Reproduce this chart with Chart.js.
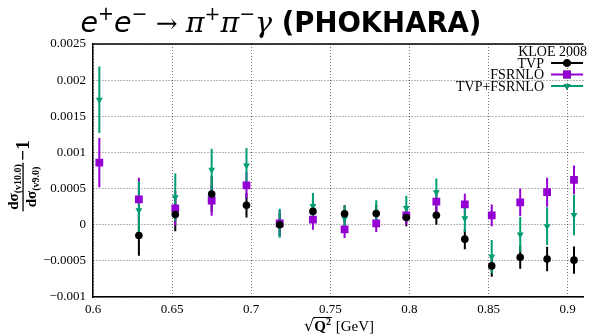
<!DOCTYPE html>
<html>
<head>
<meta charset="utf-8">
<script src="https://cdn.jsdelivr.net/npm/chart.js@4/dist/chart.umd.min.js"></script>
<style>
  html, body { margin: 0; padding: 0; background: #fff; }
  #chart { display: block; }
</style>
</head>
<body>
<canvas id="chart" width="589" height="334"></canvas>
<script>
// sqrt(Q^2) bin centres [GeV]
const qValues = [0.604, 0.629, 0.652, 0.675, 0.697, 0.718, 0.739, 0.759, 0.779, 0.798, 0.817, 0.835, 0.852, 0.870, 0.887, 0.904];

// dsigma(v10.0)/dsigma(v9.0) - 1
const tvp = [null, -0.00015, 0.00014, 0.000425, 0.00027, 0.0, 0.000184, 0.00015, 0.000155, 0.0001, 0.00013, -0.0002, -0.00057, -0.00045, -0.000475, -0.00049];
const tvpErr = [null, 0.00028, 0.00023, 0.00025, 0.00017, 0.00016, 0.00015, 0.00012, 0.00012, 0.00012, 0.00013, 0.00014, 0.00015, 0.00016, 0.00017, 0.00019];

const fsrnlo = [0.00086, 0.00035, 0.000226, 0.000335, 0.000545, 0.00002, 0.00007, -0.000065, 0.00002, 0.00013, 0.00032, 0.00028, 0.00013, 0.00031, 0.00045, 0.00062];
const fsrnloErr = [0.00034, 0.0003, 0.00024, 0.00021, 0.00018, 0.00018, 0.00014, 0.00012, 0.00012, 0.00013, 0.00015, 0.00015, 0.00015, 0.00019, 0.0002, 0.0002];

const tvpFsrnlo = [0.00173, 0.0002, 0.00038, 0.00076, 0.00082, 0.00002, 0.00026, 0.00009, 0.00016, 0.00023, 0.00045, 0.00009, -0.00044, -0.000135, -0.00002, 0.000134];
const tvpFsrnloErr = [0.00046, 0.0004, 0.00033, 0.00029, 0.00024, 0.0002, 0.00018, 0.00017, 0.00018, 0.00017, 0.00019, 0.00019, 0.00023, 0.00024, 0.00026, 0.00028];

const legendTitle = 'KLOE 2008';
const seriesNames = ['TVP', 'FSRNLO', 'TVP+FSRNLO'];

const yTickMin = -0.001, yTickMax = 0.0025, yTickStep = 0.0005;
const xTickMin = 0.6, xTickMax = 0.91, xTickStep = 0.05;

const BLACK = '#000000';
const VIOLET = '#9400d3';
const GREEN = '#009e73';
const SERIF = '"Liberation Serif", "DejaVu Serif", serif';

function points(vals, errs) {
  return qValues.map((x, i) => ({ x: x, y: vals[i], e: errs[i] })).filter(p => p.y !== null);
}

function fmt(v) {
  const r = Math.round(v * 1e5) / 1e5;
  if (r === 0) return '0';
  return String(r).replace('-', '\u2212');
}

// vertical error bars, drawn through the chart's own scales
const errorBars = {
  id: 'errorBars',
  beforeDatasetsDraw(chart) {
    const { ctx, chartArea, scales } = chart;
    ctx.save();
    ctx.beginPath();
    ctx.rect(chartArea.left, chartArea.top, chartArea.right - chartArea.left, chartArea.bottom - chartArea.top);
    ctx.clip();
    chart.data.datasets.forEach(ds => {
      ctx.strokeStyle = ds.borderColor;
      ctx.lineWidth = 2;
      ds.data.forEach(p => {
        const x = scales.x.getPixelForValue(p.x);
        ctx.beginPath();
        ctx.moveTo(x, scales.y.getPixelForValue(p.y - p.e));
        ctx.lineTo(x, scales.y.getPixelForValue(p.y + p.e));
        ctx.stroke();
      });
    });
    ctx.restore();
  }
};

function drawPieces(ctx, pieces, startX, baseY) {
  let x = startX;
  pieces.forEach(p => {
    ctx.font = p.f;
    ctx.fillText(p.t, x, baseY + (p.dy || 0));
    x += ctx.measureText(p.t).width + (p.gap || 0);
  });
  return x;
}

function widthOf(ctx, pieces) {
  let w = 0;
  pieces.forEach(p => { ctx.font = p.f; w += ctx.measureText(p.t).width + (p.gap || 0); });
  return w;
}

const labels = {
  id: 'labels',
  afterDraw(chart) {
    const { ctx, chartArea } = chart;
    ctx.save();
    ctx.fillStyle = '#000';
    ctx.textBaseline = 'alphabetic';
    ctx.textAlign = 'left';

    // top frame line
    ctx.strokeStyle = '#000';
    ctx.lineWidth = 1.5;
    ctx.beginPath();
    ctx.moveTo(chartArea.left, chartArea.top);
    ctx.lineTo(chartArea.right, chartArea.top);
    ctx.stroke();

    // title
    const sans = '"DejaVu Sans", sans-serif';
    const serifM = '"DejaVu Serif", serif';
    const title = [
      { t: 'e', f: 'italic 28.5px ' + sans },
      { t: '+', f: '19px ' + sans, dy: -12 },
      { t: 'e', f: 'italic 28.5px ' + sans },
      { t: '\u2212', f: '19px ' + sans, dy: -12 },
      { t: ' \u2192 ', f: '26px ' + serifM },
      { t: '\u03c0', f: 'italic 28.5px ' + serifM },
      { t: '+', f: '19px ' + serifM, dy: -12 },
      { t: '\u03c0', f: 'italic 28.5px ' + serifM },
      { t: '\u2212', f: '19px ' + serifM, dy: -12 },
      { t: '\u03b3', f: 'italic 28.5px ' + serifM },
      { t: ' (PHOKHARA)', f: 'bold 27.5px ' + sans }
    ];
    const tw = widthOf(ctx, title);
    drawPieces(ctx, title, 281 - tw / 2, 32);

    // legend
    const lx = 544, lineL = 551, lineR = 583;
    ctx.textAlign = 'right';
    ctx.font = '14px ' + SERIF;
    ctx.fillText(legendTitle, 587, 56);
    const rows = [63, 74.5, 86];
    chart.data.datasets.forEach((ds, i) => {
      const y = rows[i];
      ctx.textBaseline = 'middle';
      ctx.fillStyle = '#000';
      ctx.fillText(seriesNames[i], lx, y + 1);
      ctx.strokeStyle = ds.borderColor;
      ctx.lineWidth = 2;
      ctx.beginPath();
      ctx.moveTo(lineL, y);
      ctx.lineTo(lineR, y);
      ctx.stroke();
      Chart.helpers.drawPoint(ctx, {
        pointStyle: ds.pointStyle,
        radius: ds.pointRadius,
        rotation: ds.rotation || 0,
        borderWidth: 0
      }, (lineL + lineR) / 2, y);
      ctx.fillStyle = ds.backgroundColor;
      ctx.fill();
    });

    // x axis title: sqrt(Q^2) [GeV]
    ctx.fillStyle = '#000';
    ctx.textAlign = 'left';
    ctx.textBaseline = 'alphabetic';
    const xt = [
      { t: '\u221a', f: '16px ' + serifM },
      { t: 'Q', f: 'bold 15px ' + SERIF },
      { t: '2', f: 'bold 10px ' + SERIF, dy: -6, gap: 1 },
      { t: ' [GeV]', f: '15px ' + SERIF }
    ];
    const xw = widthOf(ctx, xt);
    const x0 = 339 - xw / 2, by = 331;
    ctx.font = xt[0].f;
    const rootW = ctx.measureText(xt[0].t).width;
    drawPieces(ctx, xt, x0, by);
    ctx.font = xt[1].f;
    const qW = ctx.measureText('Q').width;
    ctx.font = xt[2].f;
    const sW = ctx.measureText('2').width;
    ctx.strokeStyle = '#000';
    ctx.lineWidth = 1;
    ctx.beginPath();
    ctx.moveTo(x0 + rootW - 1, by - 13.5);
    ctx.lineTo(x0 + rootW + qW + sW + 1, by - 13.5);
    ctx.stroke();

    // y axis title: dsigma(v10.0)/dsigma(v9.0) - 1
    ctx.translate(23, 180);
    ctx.rotate(-Math.PI / 2);
    const num = [
      { t: 'd\u03c3', f: 'bold 15px ' + SERIF },
      { t: '(v10.0)', f: 'bold 10px ' + SERIF, dy: 3 }
    ];
    const den = [
      { t: 'd\u03c3', f: 'bold 15px ' + SERIF },
      { t: '(v9.0)', f: 'bold 10px ' + SERIF, dy: 3 }
    ];
    const nw = widthOf(ctx, num), dw = widthOf(ctx, den);
    const fw = Math.max(nw, dw) + 3;
    const cx = -7;
    drawPieces(ctx, num, cx - nw / 2, -5);
    drawPieces(ctx, den, cx - dw / 2, 13);
    ctx.fillRect(cx - fw / 2, -0.6, fw, 1.3);
    ctx.font = 'bold 19px ' + SERIF;
    ctx.fillText('\u22121', cx + fw / 2 + 2, 6);
    ctx.restore();
  }
};

new Chart(document.getElementById('chart'), {
  type: 'scatter',
  data: {
    datasets: [
      {
        label: seriesNames[0],
        data: points(tvp, tvpErr),
        borderColor: BLACK,
        backgroundColor: BLACK,
        pointStyle: 'circle',
        pointRadius: 3.8,
        pointBorderWidth: 0
      },
      {
        label: seriesNames[1],
        data: points(fsrnlo, fsrnloErr),
        borderColor: VIOLET,
        backgroundColor: VIOLET,
        pointStyle: 'rect',
        pointRadius: 5.5,
        pointBorderWidth: 0
      },
      {
        label: seriesNames[2],
        data: points(tvpFsrnlo, tvpFsrnloErr),
        borderColor: GREEN,
        backgroundColor: GREEN,
        pointStyle: 'triangle',
        rotation: 180,
        pointRotation: 180,
        pointRadius: 4,
        pointBorderWidth: 0
      }
    ]
  },
  options: {
    responsive: false,
    animation: false,
    devicePixelRatio: 1,
    layout: { padding: { top: 44, left: 0, right: 0, bottom: 0 } },
    plugins: {
      legend: { display: false },
      title: { display: false },
      tooltip: { enabled: false }
    },
    scales: {
      x: {
        type: 'linear',
        min: xTickMin,
        max: xTickMax,
        afterFit(scale) { scale.height = 37; scale.paddingLeft = 0; scale.paddingRight = 0; },
        ticks: {
          stepSize: xTickStep,
          includeBounds: false,
          maxRotation: 0,
          padding: 5,
          color: '#000',
          font: { family: SERIF, size: 13 },
          callback: v => fmt(v)
        },
        grid: { color: 'rgba(0,0,0,0.55)', lineWidth: 1, drawTicks: false },
        border: { display: true, color: '#000', width: 1.5, dash: [1, 2] }
      },
      y: {
        type: 'linear',
        min: yTickMin,
        max: yTickMax,
        afterFit(scale) { scale.width = 93; },
        ticks: {
          stepSize: yTickStep,
          padding: 7,
          color: '#000',
          font: { family: SERIF, size: 13 },
          callback: v => fmt(v)
        },
        grid: { color: 'rgba(0,0,0,0.55)', lineWidth: 1, drawTicks: false },
        border: { display: true, color: '#000', width: 1.5, dash: [1, 2] }
      }
    }
  },
  plugins: [errorBars, labels]
});
</script>
</body>
</html>
